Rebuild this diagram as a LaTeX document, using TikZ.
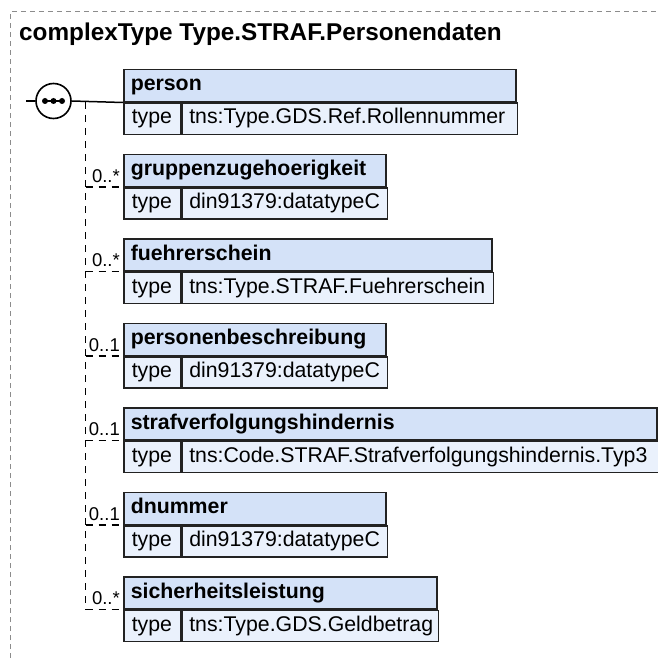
\documentclass[tikz,border=0pt]{standalone}
\usepackage{fontspec}
\setmainfont{Liberation Sans}
\definecolor{hdrfill}{HTML}{D4E2F8}
\definecolor{rowfill}{HTML}{EAF1FC}
\definecolor{framegray}{HTML}{8C8C8C}
\definecolor{boxline}{HTML}{222222}
\newcommand\xsdelem[5]{% #1 name, #2 top, #3 right, #4 title, #5 type
  \pgfmathsetmacro\elemtw{#3-123-14}%
  \pgfmathsetmacro\valtw{#3-180-14}%
  \node[hdrcell, text width=\elemtw pt, anchor=north west] (#1) at (123,#2) {#4};
  \node[typecell, anchor=north west] (#1k) at (#1.south west) {type};
  \node[valcell, text width=\valtw pt, anchor=north west] (#1v) at (#1k.north east) {#5};
}
\begin{document}
\begin{tikzpicture}[x=1pt,y=-1pt,
  framestyle/.style={draw=framegray, line width=1pt, dash pattern=on 5pt off 4pt},
  cellbase/.style={draw=boxline, line width=1.5pt, inner ysep=0pt, text height=15pt, text depth=4.5pt, align=left},
  hdrcell/.style={cellbase, fill=hdrfill, minimum height=32pt, inner xsep=7pt, font=\fontsize{21.3}{25}\selectfont\bfseries},
  typecell/.style={cellbase, fill=rowfill, minimum height=31pt, inner xsep=8pt, text width=41pt, font=\fontsize{21.3}{25}\selectfont},
  valcell/.style={cellbase, fill=rowfill, minimum height=31pt, inner xsep=7pt, font=\fontsize{21.3}{25}\selectfont},
  optline/.style={draw=black, line width=1.5pt, dash pattern=on 7pt off 6pt},
  solidline/.style={draw=black, line width=1.5pt},
  mult/.style={font=\fontsize{18.5}{21}\selectfont, inner sep=0pt},
  seqc/.style={circle, draw=black, line width=1.6pt, fill=white, minimum size=35pt, inner sep=0pt}
]
\useasboundingbox (0,0) rectangle (657,658);
\draw[framestyle] (10,658) -- (10,12) -- (657,12);
\node[anchor=base west, inner sep=0pt, font=\fontsize{24.3}{28}\selectfont\bfseries] (title) at (19,41) {complexType Type.STRAF.Personendaten};

\xsdelem{p}{69}{515}{person}{tns:Type.GDS.Ref.Rollennummer}
\xsdelem{g}{153.5}{385}{gruppenzugehoerigkeit}{din91379:datatypeC}
\xsdelem{f}{238}{491}{fuehrerschein}{tns:Type.STRAF.Fuehrerschein}
\xsdelem{b}{322.5}{385}{personenbeschreibung}{din91379:datatypeC}
\xsdelem{h}{407}{656}{strafverfolgungshindernis}{tns:Code.STRAF.Strafverfolgungshindernis.Typ3}
\xsdelem{d}{491.5}{385}{dnummer}{din91379:datatypeC}
\xsdelem{s}{576}{436}{sicherheitsleistung}{tns:Type.GDS.Geldbetrag}

% sequence compositor
\coordinate (in) at (26,101);
\node[seqc] (seq) at (53.5,101) {};
\draw[solidline] (in) -- (seq.west);
\draw[solidline] (seq.east) -- (p.south west);
\draw[line width=1.6pt] ([xshift=-10pt]seq.center) -- ([xshift=10pt]seq.center);
\fill ([xshift=-8.5pt]seq.center) circle[radius=3];
\fill (seq.center) circle[radius=3];
\fill ([xshift=8.5pt]seq.center) circle[radius=3];

% optional branches
\coordinate (vtop) at (85.5,102);
\draw[optline] (vtop) -- (vtop |- s.south west);
\foreach \n/\m in {g/{0..*}, f/{0..*}, b/{0..1}, h/{0..1}, d/{0..1}, s/{0..*}}{
  \draw[optline] (vtop |- \n.south west) -- (\n.south west);
  \node[mult, anchor=base east] (\n m) at ([xshift=-3pt,yshift=5pt]\n.south west) {\m};
}
\end{tikzpicture}
\end{document}
